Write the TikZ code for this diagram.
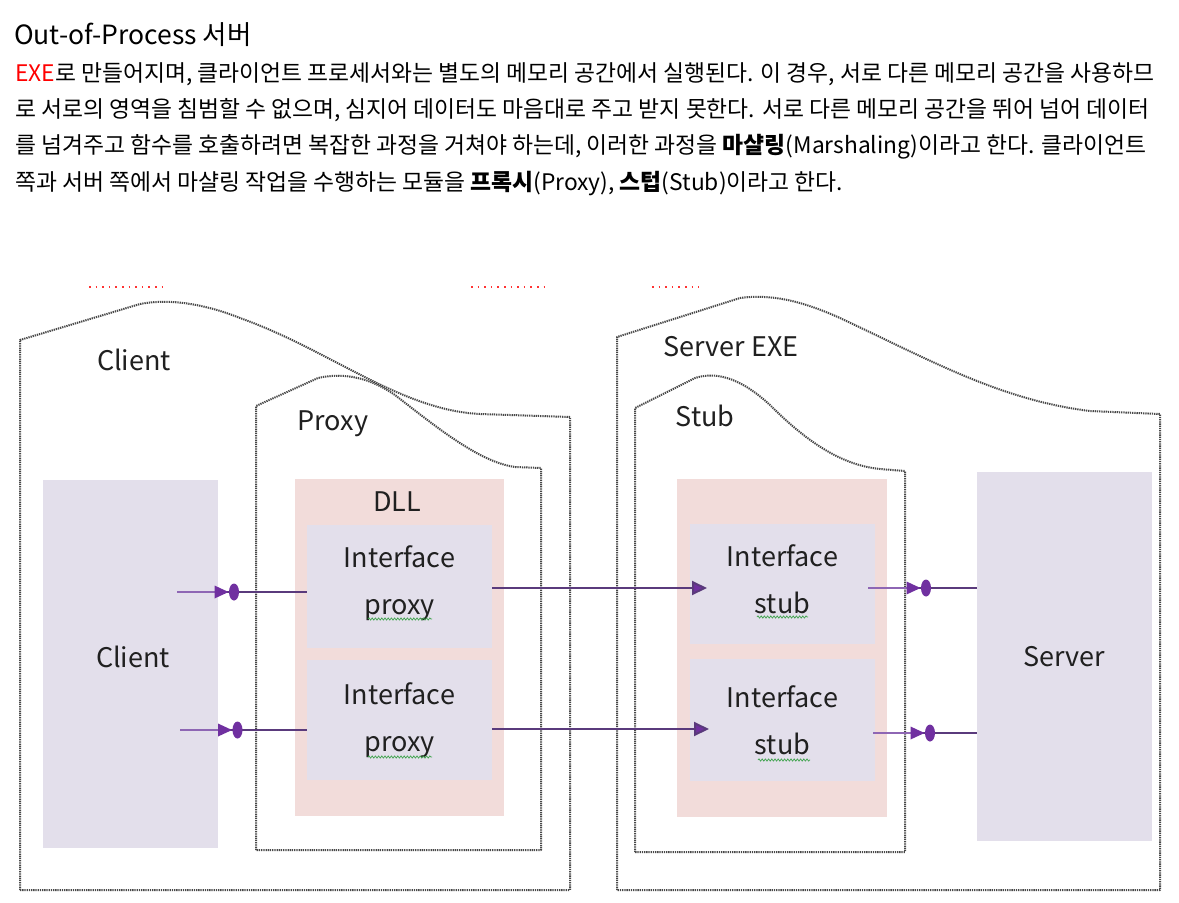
\documentclass[tikz,border=0pt]{standalone}
\usepackage{fontspec}
\setmainfont{Noto Sans CJK KR}
\usetikzlibrary{arrows.meta,decorations.pathmorphing}
\definecolor{lav}{HTML}{E3DFEB}
\definecolor{pinkc}{HTML}{F2DCDA}
\definecolor{purp}{HTML}{7030A0}
\definecolor{purpl}{HTML}{8E66B4}
\definecolor{purpd}{HTML}{5A3A7C}
\definecolor{dotg}{HTML}{484848}
\definecolor{txt}{HTML}{202020}
\definecolor{sqg}{HTML}{3FA34D}
\tikzset{
  dotbox/.style={draw=dotg, line width=2pt, dash pattern=on 1.3pt off 0.9pt, line join=round},
  reddot/.style={draw=red!80, line width=1.8pt, dash pattern=on 1.6pt off 5pt},
  lavbox/.style={fill=lav, draw=none, inner sep=0pt},
  pinkbox/.style={fill=pinkc, draw=none, inner sep=0pt},
  lbl/.style={text=txt, inner sep=0pt, font=\fontsize{27}{47}\selectfont, align=center},
  para/.style={anchor=west, inner sep=0pt, text=black, font=\fontsize{22.8}{26}\selectfont},
  wireL/.style={draw=purpl, line width=2pt},
  wireD/.style={draw=purpd, line width=1.8pt},
  midarr/.style={draw=purpd, line width=2pt, -{Triangle[length=15pt,width=14pt,fill=purp]}},
  squig/.style={draw=sqg, line width=0.7pt, decorate, decoration={snake, segment length=3.2pt, amplitude=1.1pt}},
  plug/.pic={
    \fill[purp] (-7,-6.5) -- (7,0) -- (-7,6.5) -- cycle;
    \fill[purp] (12.5,0) ellipse [x radius=5, y radius=8.5];
  }
}
\begin{document}
\begin{tikzpicture}[x=1pt,y=-1pt]
\useasboundingbox[fill=white] (0,0) rectangle (1179,903);

% heading and paragraph
\node[anchor=west, inner sep=0pt, font=\fontsize{26.5}{30}\selectfont] (title) at (14,35) {Out-of-Process 서버};
\node[para] (p1) at (15,74) {\textcolor{red}{EXE}로 만들어지며, 클라이언트 프로세서와는 별도의 메모리 공간에서 실행된다. 이 경우, 서로 다른 메모리 공간을 사용하므};
\node[para] (p2) at (15,110.5) {로 서로의 영역을 침범할 수 없으며, 심지어 데이터도 마음대로 주고 받지 못한다. 서로 다른 메모리 공간을 뛰어 넘어 데이터};
\node[para] (p3) at (15,147) {를 넘겨주고 함수를 호출하려면 복잡한 과정을 거쳐야 하는데, 이러한 과정을 \textbf{마샬링}(Marshaling)이라고 한다. 클라이언트};
\node[para] (p4) at (15,184) {쪽과 서버 쪽에서 마샬링 작업을 수행하는 모듈을 \textbf{프록시}(Proxy), \textbf{스텁}(Stub)이라고 한다.};

% small red dotted marks
\draw[reddot] (89,287) -- (163,287);
\draw[reddot] (471,287) -- (544,287);
\draw[reddot] (652,287) -- (699,287);

% outer process shapes
\draw[dotbox] (20,890) -- (20,340) -- (140,304) .. controls (165,299) and (200,302) .. (240,318)
  .. controls (330,350) and (400,410) .. (480,414) -- (570,417) -- (570,890) -- cycle;
\draw[dotbox] (256,850) -- (256,406) -- (318,378) .. controls (345,372) and (370,378) .. (395,395)
  .. controls (440,430) and (480,462) .. (515,467) -- (541,468) -- (541,850) -- cycle;
\draw[dotbox] (617,890) -- (617,337) -- (740,298) .. controls (770,294) and (800,300) .. (840,318)
  .. controls (930,360) and (1000,400) .. (1090,411) -- (1160,414) -- (1160,890) -- cycle;
\draw[dotbox] (635,852) -- (635,408) -- (695,378) .. controls (720,370) and (745,382) .. (770,405)
  .. controls (805,440) and (840,465) .. (880,469) -- (905,471) -- (905,852) -- cycle;

% shape labels
\node[lbl] (lclient) at (134,360) {Client};
\node[lbl] (lproxy) at (333,424) {Proxy};
\node[lbl] (lserverexe) at (731,347) {Server EXE};
\node[lbl] (lstub) at (705,416) {Stub};

% filled blocks
\node[lavbox, minimum width=175pt, minimum height=368pt] (cl) at (130.5,664) {};
\node[lbl] (lcl) at (133,657) {Client};
\node[pinkbox, minimum width=209pt, minimum height=337pt] (dll) at (399.5,647.5) {};
\node[lbl] (ldll) at (397,502) {DLL};
\node[lavbox, lbl, minimum width=185pt, minimum height=123pt] (ip1) at (399.5,586.5) {Interface\\proxy\rule[-13pt]{0pt}{1pt}};
\node[lavbox, lbl, minimum width=185pt, minimum height=120pt] (ip2) at (399.5,720) {Interface\\proxy};
\node[pinkbox, minimum width=210pt, minimum height=338pt] (stb) at (782,648) {};
\node[lavbox, lbl, minimum width=185pt, minimum height=120pt] (is1) at (782.5,584) {Interface\\stub\rule[-10pt]{0pt}{1pt}};
\node[lavbox, lbl, minimum width=185pt, minimum height=122pt] (is2) at (782.5,720) {Interface\\stub};
\node[lavbox, lbl, minimum width=175pt, minimum height=369pt] (sv) at (1064.5,656.5) {Server};

% spell-check squiggles
\draw[squig] (368,619) -- (432,619);
\draw[squig] (368,757) -- (432,757);
\draw[squig] (757,617) -- (808,617);
\draw[squig] (758,760) -- (810,760);

% client -> proxy connectors
\coordinate (la1) at (177,592);
\coordinate (lp1) at (221.5,592);
\draw[wireL] (la1) -- (lp1);
\draw[wireD] (lp1) -- (ip1.west |- la1);
\pic at (lp1) {plug};
\coordinate (la2) at (180,730);
\coordinate (lp2) at (225,730);
\draw[wireL] (la2) -- (lp2);
\draw[wireD] (lp2) -- (ip2.west |- la2);
\pic at (lp2) {plug};

% proxy -> stub connectors
\coordinate (mt1) at (707,588);
\coordinate (mt2) at (709,729);
\draw[midarr] (ip1.east |- mt1) -- (mt1);
\draw[midarr] (ip2.east |- mt2) -- (mt2);

% stub -> server connectors
\coordinate (ra1) at (868,588);
\coordinate (rp1) at (913.5,588);
\draw[wireL] (ra1) -- (rp1);
\draw[wireD] (rp1) -- (sv.west |- ra1);
\pic at (rp1) {plug};
\coordinate (ra2) at (873,733);
\coordinate (rp2) at (917.5,733);
\draw[wireL] (ra2) -- (rp2);
\draw[wireD] (rp2) -- (sv.west |- ra2);
\pic at (rp2) {plug};
\end{tikzpicture}
\end{document}
